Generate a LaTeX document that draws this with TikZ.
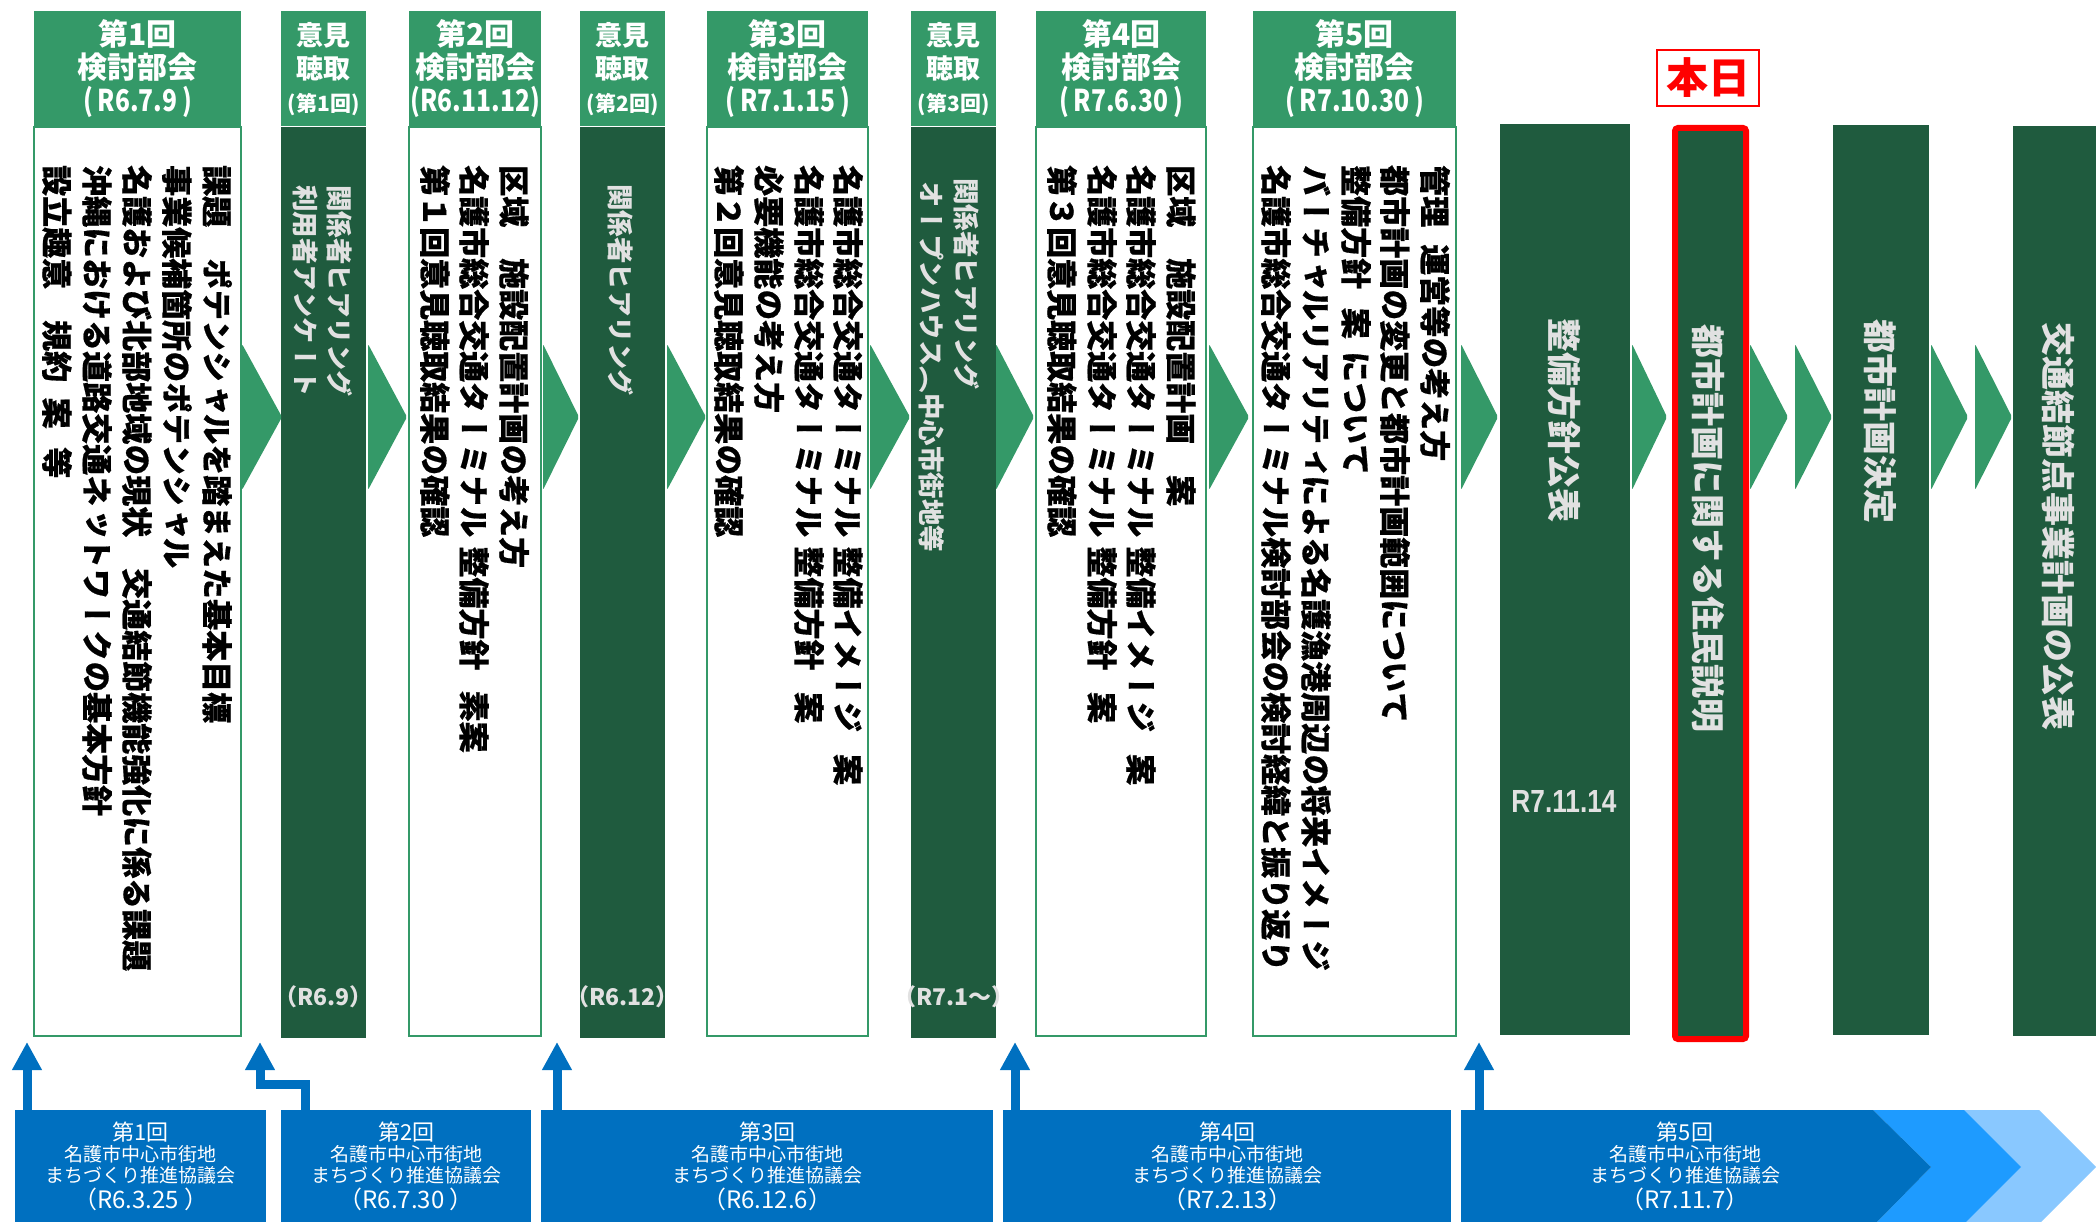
\documentclass[tikz,border=0pt]{standalone}
\usepackage{fontspec}
\setmainfont{Noto Sans CJK JP}
\newfontfamily\vjp[Vertical=RotatedGlyphs, BoldFeatures={FakeBold=0.6}]{Noto Sans CJK JP}
\newfontfamily\vjpm[Vertical=RotatedGlyphs]{Noto Sans CJK JP}
\newfontfamily\latn[FakeStretch=0.82]{Liberation Sans}
\usetikzlibrary{arrows.meta}

\definecolor{kgreen}{RGB}{52,153,104}
\definecolor{dgreen}{RGB}{31,91,62}
\definecolor{kblue}{RGB}{0,112,192}
\definecolor{kblue2}{RGB}{30,155,255}
\definecolor{kblue3}{RGB}{137,200,255}
\definecolor{ltext}{RGB}{225,225,225}

\newcommand{\sk}[1]{\hspace{#1em}}
\newcommand{\cnd}{\addfontfeature{FakeStretch=0.82}}
\newcommand{\mtext}[2]{{\fontsize{22}{22}\selectfont #1}\\名護市中心市街地\\まちづくり推進協議会\\[3pt]{\fontsize{24}{24}\selectfont #2}}

\tikzset{
  hdr/.style={fill=kgreen, text=white, inner sep=0, align=center, anchor=north west,
    minimum height=115pt, font=\bfseries\fontsize{30}{33}\selectfont},
  ihdr/.style={hdr, font=\bfseries\fontsize{27}{33}\selectfont},
  kbody/.style={draw=kgreen, line width=2pt, fill=white, inner sep=0, anchor=north, minimum height=909pt},
  ibody/.style={fill=dgreen, inner sep=0, anchor=north, minimum height=911pt},
  vtext/.style={rotate=-90, anchor=west, inner sep=0},
  vblack/.style={vtext, font=\vjp\bfseries\fontsize{31}{31}\selectfont},
  vlight/.style={vtext, text=ltext, font=\vjpm\bfseries\fontsize{26.5}{26.5}\selectfont},
  vwhite/.style={vtext, text=ltext, font=\vjpm\bfseries\fontsize{34}{34}\selectfont},
  dbox/.style={fill=dgreen, inner sep=0, anchor=north west},
  mbox/.style={fill=kblue, text=white, inner sep=0, anchor=north west, minimum height=112pt,
    align=center, font=\fontsize{19}{21}\selectfont},
  barrow/.style={draw=kblue, line width=9pt, -{Triangle[width=28pt,length=28pt]}},
  datelbl/.style={text=ltext, font=\bfseries\fontsize{23}{23}\selectfont},
}

\begin{document}
\begin{tikzpicture}[x=1pt,y=-1pt]
\useasboundingbox (0,0) rectangle (2096,1222);

% kentou bukai columns
\foreach \x/\w/\t [count=\i] in {34/207/{第1回\\検討部会\\{\cnd(\,R6.7.9\,)}},409/132/{第2回\\検討部会\\{\cnd(R6.11.12)}},707/161/{第3回\\検討部会\\{\cnd(\,R7.1.15\,)}},1036/170/{第4回\\検討部会\\{\cnd(\,R7.6.30\,)}},1253/203/{第5回\\検討部会\\{\cnd(\,R7.10.30\,)}}}{
  \node[hdr, minimum width=\w pt, text width=\w pt] (k\i) at (\x,11) {\t};
  \node[kbody, minimum width=\w pt] (kb\i) at (k\i.south) {};
}

% iken choushu columns
\foreach \x/\m/\d [count=\i] in {281/1/（R6.9）,580/2/（R6.12）,911/3/（R7.1～）}{
  \node[ihdr, minimum width=85pt, text width=85pt] (i\i) at (\x,11) {意見\\聴取\\{\fontsize{21}{21}\selectfont(第\m 回)}};
  \node[ibody, minimum width=85pt] (ib\i) at (i\i.south) {};
  \node[datelbl] (id\i) at ([yshift=41pt]ib\i.south) {\d};
}

% texts
\foreach \x/\t [count=\j] in {217/{課題　ポテンシャルを踏まえた基本目標},177/{事業候補箇所のポテンシャル},137/{名護および北部地域の現状　交通結節機能強化に係る課題},97/{沖縄における道路交通ネットワークの基本方針},57/{設立趣意　規約\sk{.5}案\sk{.6}等}}
  \node[vblack] (kt1\j) at (\x,165) {\t};
\foreach \x/\t [count=\j] in {514/{区域　施設配置計画の考え方},474/{名護市総合交通ターミナル\sk{.3}整備方針\sk{.65}素案},435/{第１回意見聴取結果の確認}}
  \node[vblack] (kt2\j) at (\x,165) {\t};
\foreach \x/\t [count=\j] in {848/{名護市総合交通ターミナル\sk{.3}整備イメージ\sk{.7}案},809/{名護市総合交通ターミナル\sk{.3}整備方針\sk{.7}案},769/{必要機能の考え方},729/{第２回意見聴取結果の確認}}
  \node[vblack] (kt3\j) at (\x,165) {\t};
\foreach \x/\t [count=\j] in {1181/{区域　施設配置計画　案},1141/{名護市総合交通ターミナル\sk{.3}整備イメージ\sk{.7}案},1102/{名護市総合交通ターミナル\sk{.3}整備方針\sk{.7}案},1062/{第３回意見聴取結果の確認}}
  \node[vblack] (kt4\j) at (\x,165) {\t};
\foreach \x/\t [count=\j] in {1435/{管理\sk{.55}運営等の考え方},1395/{都市計画の変更と都市計画範囲について},1356/{整備方針\sk{.6}案\sk{.4}について},1316/{バーチャルリアリティによる名護漁港周辺の将来イメージ},1276/{名護市総合交通ターミナル検討部会の検討経緯と振り返り}}
  \node[vblack] (kt5\j) at (\x,165) {\t};

\node[vlight] (iv1a) at (340,185) {関係者ヒアリング};
\node[vlight] (iv1b) at (305,185) {利用者アンケート};
\node[vlight] (iv2a) at (621,184) {関係者ヒアリング};
\node[vlight] (iv3a) at (967,178) {関係者ヒアリング};
\node[vlight] (iv3b) at (932,181) {オープンハウス（中心市街地等};

% later steps
\node[dbox, minimum width=130pt, minimum height=911pt] (s1) at (1500,124) {};
\node[dbox, draw=red, line width=6pt, rounded corners=3pt, minimum width=71pt, minimum height=911pt] (s2) at (1672,125) {};
\node[dbox, minimum width=96pt, minimum height=910pt] (s3) at (1833,125) {};
\node[dbox, minimum width=90pt, minimum height=910pt] (s4) at (2013,126) {};
\node[vwhite] (s1t) at (1564,318) {整備方針公表};
\node[text=ltext, font=\latn\bfseries\fontsize{32}{32}\selectfont] (s1d) at (1564,801) {R7.11.14};
\node[vwhite] (s2t) at (1708,324) {都市計画に関する住民説明};
\node[vwhite] (s3t) at (1880,319) {都市計画決定};
\node[vwhite] (s4t) at (2058,322) {交通結節点事業計画の公表};
\node[draw=red, line width=1.5pt, text=red, inner sep=0, minimum width=102pt, minimum height=56pt,
  font=\bfseries\fontsize{42}{42}\selectfont] (today) at (1708,78) {本日};

% chevrons
\foreach \a/\b in {242/282,368/407,543/579,667/706,870/910,996/1034,1209/1249,1461/1498,1632/1667,1750/1788,1795/1832,1931/1968,1975/2012}
  \fill[kgreen, rounded corners=2pt] (\a,344) -- (\b,417) -- (\a,490) -- cycle;

% kyougikai
\node[mbox, minimum width=251pt] (m1) at (15,1110) {\mtext{第1回}{（R6.3.25 ）}};
\node[mbox, minimum width=250pt] (m2) at (281,1110) {\mtext{第2回}{（R6.7.30 ）}};
\node[mbox, minimum width=452pt] (m3) at (541,1110) {\mtext{第3回}{（R6.12.6）}};
\node[mbox, minimum width=448pt] (m4) at (1003,1110) {\mtext{第4回}{（R7.2.13）}};
\fill[kblue3] (1964,1110) -- (2039,1110) -- (2096,1167) -- (2039,1224) -- (1964,1224) -- (2021,1167) -- cycle;
\fill[kblue2] (1873,1110) -- (1964,1110) -- (2021,1167) -- (1964,1224) -- (1875,1224) -- (1931,1167) -- cycle;
\fill[kblue] (1461,1110) -- (1873,1110) -- (1931,1167) -- (1875,1224) -- (1461,1224) -- cycle;
\node[text=white, inner sep=0, align=center, font=\fontsize{19}{21}\selectfont] (m5) at (1685,1166) {\mtext{第5回}{（R7.11.7）}};

\coordinate (a1) at (27,1042);
\coordinate (a2) at (260,1042);
\coordinate (a3) at (557,1042);
\coordinate (a4) at (1015,1042);
\coordinate (a5) at (1479,1042);
\draw[barrow] (m1.north -| a1) -- (a1);
\draw[barrow] ([xshift=-101pt]m2.north) |- ([yshift=-42pt]a2) -- (a2);
\draw[barrow] (m3.north -| a3) -- (a3);
\draw[barrow] (m4.north -| a4) -- (a4);
\draw[barrow] (m4.north -| a5) -- (a5);
\end{tikzpicture}
\end{document}
